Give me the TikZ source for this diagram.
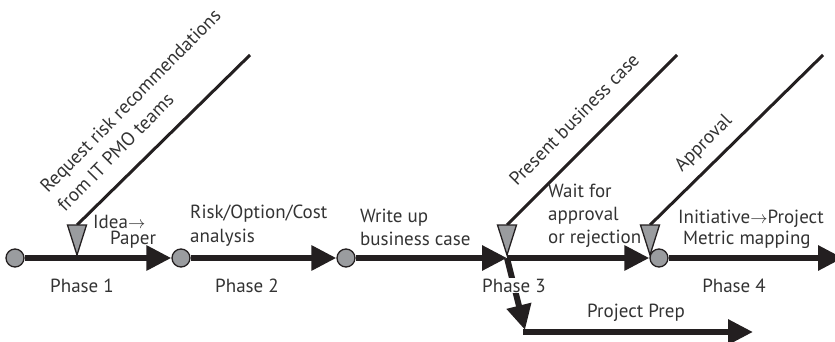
\documentclass[tikz,border=0pt]{standalone}
\usepackage{fontspec}
\setmainfont{PT Sans}
\usetikzlibrary{arrows.meta}
\definecolor{ink}{HTML}{231F20}
\definecolor{txt}{HTML}{333333}
\definecolor{dot}{HTML}{9A9C9F}
\begin{document}
\begin{tikzpicture}[x=1pt,y=-1pt,
  flow/.style={draw=ink,line width=6pt,-{Triangle[length=25pt,width=24pt]}},
  stage/.style={circle,draw=ink,line width=1.3pt,fill=dot,minimum size=18pt,inner sep=0pt},
  wedge/.style={draw=ink,line width=1.3pt,fill=dot},
  diag/.style={draw=ink,line width=3pt},
  lbl/.style={text=txt,font=\fontsize{19}{23}\selectfont,inner sep=0pt,anchor=base west},
  ph/.style={text=txt,font=\fontsize{19}{23}\selectfont,inner sep=1pt,anchor=base},
  rlbl/.style={lbl,rotate=45.5}]
\useasboundingbox (0,0) rectangle (835,342);
% stages
\node[stage] (c1) at (15,258) {};
\node[stage] (c2) at (181,258) {};
\node[stage] (c3) at (346,258) {};
\coordinate (j) at (507,258);
\node[stage] (c4) at (659,258) {};
\coordinate (e) at (843,258);
\coordinate (b) at (525,330);
\coordinate (pps) at (523,332);
\coordinate (ppe) at (753,332);
% main flow
\draw[flow] (c1) -- (c2);
\draw[flow] (c2) -- (c3);
\draw[flow] (c3) -- (j);
\draw[flow] (j) -- (c4);
\draw[flow] (c4) -- (e);
\draw[flow] (j) -- (b);
\draw[flow] (pps) -- (ppe);
% phase labels
\node[ph] (p1) at (82,292) {Phase 1};
\node[ph] (p2) at (247,292) {Phase 2};
\node[ph,fill=white] (p3) at (514,292) {Phase 3};
\node[ph] (p4) at (734,292) {Phase 4};
\node[ph] (pp) at (636,317) {Project Prep};
% diagonal inputs
\coordinate (t1) at (77,225); \coordinate (u1) at (250,55);
\coordinate (t2) at (507,225); \coordinate (u2) at (677,55);
\coordinate (t3) at (650,225); \coordinate (u3) at (823,55);
\draw[diag] (t1) -- (u1);
\draw[diag] (t2) -- (u2);
\draw[diag] (t3) -- (u3);
\draw[wedge] (67.5,225) -- (86.5,225) -- (77,255) -- cycle;
\draw[wedge] (497.5,225) -- (516.5,225) -- (507,255) -- cycle;
\draw[wedge] (640.5,225) -- (659.5,225) -- (650,255) -- cycle;
\node[rlbl] (r1) at (48,194) {Request risk recommendations};
\node[rlbl] (r2) at (65,213) {from IT PMO teams};
\node[rlbl] (r3) at (517,187) {Present business case};
\node[rlbl] (r4) at (682,173) {Approval};
% step labels
\node[lbl] (a1) at (93,228) {Idea$\rightarrow$};
\node[lbl] (a2) at (110,244) {Paper};
\node[lbl] (b1) at (190,218) {Risk/Option/Cost};
\node[lbl] (b2) at (190,242) {analysis};
\node[lbl] (w1) at (360,222) {Write up};
\node[lbl] (w2) at (360,245) {business case};
\node[lbl] (x1) at (548,197) {Wait for};
\node[lbl] (x2) at (548,220) {approval};
\node[lbl] (x3) at (548,243) {or rejection};
\node[lbl] (y1) at (678,223) {Initiative$\rightarrow$Project};
\node[lbl] (y2) at (683,244) {Metric mapping};
\end{tikzpicture}
\end{document}
